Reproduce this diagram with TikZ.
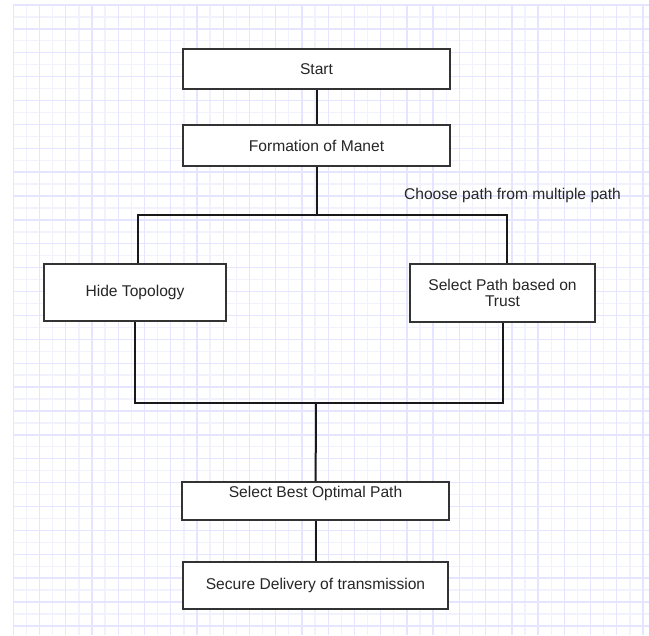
\documentclass[tikz,border=0pt]{standalone}
\usepackage{fontspec}
\setmainfont{Liberation Sans}
\usepackage{xcolor}

\begin{document}
\begin{tikzpicture}[x=0.75pt, y=-0.75pt,
        box/.style={draw=black!80, line width=1.5pt, fill=white, align=center,
                text=black!85, inner sep=3pt,
                font=\fontsize{11.7pt}{12.5pt}\selectfont},
        link/.style={line width=1.5pt, black!90},
        minor/.style={blue!5, line width=1pt},
        major/.style={blue!10, line width=1pt}]
            \useasboundingbox (0,0) rectangle (649,635);
            \fill[white] (0,0) rectangle (649,635);

            % Draw the background grid
            \foreach \i in {0,...,48}
                {
                    \draw[minor] (13.3+13.12*\i,5) -- (13.3+13.12*\i,635);
                }
            \foreach \j in {0,...,52}
                {
                    \draw[minor] (13.3,5+11.94*\j) -- (649,5+11.94*\j);
                }
            \foreach \i in {0,2,...,48}
                {
                    \draw[major] (13.3+13.12*\i,5) -- (13.3+13.12*\i,635);
                }
            \foreach \j in {0,2,...,52}
                {
                    \draw[major] (13.3,5+11.94*\j) -- (649,5+11.94*\j);
                }

            % Draw the steps
            \node[box, minimum width=200pt, minimum height=30pt] (start) at (316.5,69) {Start};
            \node[box, minimum width=200pt, minimum height=30.75pt] (manet) at (316.5,145.5) {Formation of Manet};
            \node[box, minimum width=136.5pt, minimum height=42.75pt] (hide) at (135,292.5) {Hide Topology};
            \node[box, minimum width=138.75pt, minimum height=43.5pt] (trust) at (502.5,293) {Select Path based on\\Trust};
            \node[box, minimum width=200pt, minimum height=28.5pt, text depth=14pt] (best) at (315.5,501) {Select Best Optimal Path};
            \node[box, minimum width=198.75pt, minimum height=35.25pt] (secure) at (315.5,585.5) {Secure Delivery of transmission};

            \node[text=black!85, font=\fontsize{11.7pt}{12.5pt}\selectfont] (choose) at (512.5,195) {Choose path from multiple path};

            % Fork and join points
            \coordinate (fork) at (316.5,215);
            \coordinate (join) at (316,403);

            % Draw the connectors
            \draw[link] (start) -- (manet);
            \draw[link] (manet) -- (fork);
            \draw[link] ([xshift=2.25pt]hide.north) |- (fork) -| ([xshift=3.4pt]trust.north);
            \draw[link] (hide.south) |- (join) -| (trust.south);
            \draw[link] (join) -- (best);
            \draw[link] (best) -- (secure);

        \end{tikzpicture}
\end{document}
